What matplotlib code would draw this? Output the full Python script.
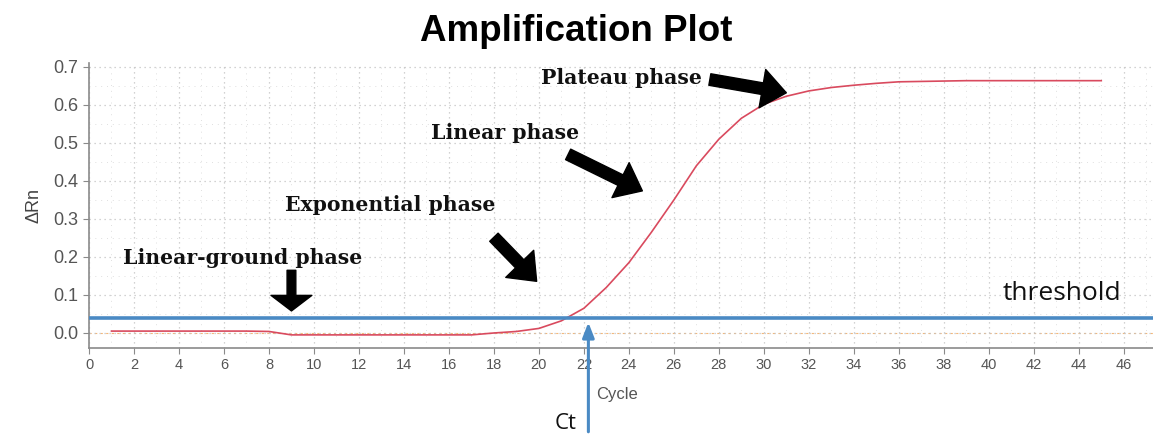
import matplotlib.pyplot as plt
from matplotlib.ticker import MultipleLocator

# qPCR amplification curve
cycles = list(range(1, 46))
delta_rn = [0.005, 0.005, 0.005, 0.005, 0.005, 0.005, 0.005, 0.004, -0.005, -0.005,
            -0.005, -0.005, -0.005, -0.005, -0.005, -0.005, -0.005, 0.0, 0.004, 0.012,
            0.032, 0.065, 0.12, 0.185, 0.265, 0.35, 0.44, 0.51, 0.565, 0.602,
            0.623, 0.637, 0.646, 0.652, 0.657, 0.661, 0.662, 0.663, 0.664, 0.664,
            0.664, 0.664, 0.664, 0.664, 0.664]
threshold = 0.04
ct_cycle = 22.2

x_ticks = list(range(0, 48, 2))
y_ticks = [0.0, 0.1, 0.2, 0.3, 0.4, 0.5, 0.6, 0.7]

# phase labels: (text, label position, arrow tail, arrow tip, arrow style)
big = 'simple,head_width=2.0,head_length=1.25,tail_width=0.6'
flat = 'simple,head_width=2.1,head_length=0.8,tail_width=0.45'
phases = [
    ("Plateau phase", (20.1, 0.671), (27.6, 0.667), (31.0, 0.632), big),
    ("Linear phase", (15.2, 0.526), (21.3, 0.470), (24.6, 0.374), big),
    ("Exponential phase", (8.7, 0.337), (18.0, 0.252), (19.9, 0.136), big),
    ("Linear-ground phase", (1.5, 0.197), (9.0, 0.165), (9.0, 0.058), flat),
]

blue = '#4a8ac4'
red = '#d94a5e'
sans = ['Liberation Sans', 'DejaVu Sans']

fig = plt.figure(figsize=(11.53, 4.36), dpi=100)
ax = fig.add_axes([89 / 1153, 88 / 436, 1 - 89 / 1153, 285 / 436])

ax.plot(cycles, delta_rn, color=red, lw=1.2, zorder=3)
ax.axhline(0.0, color='#f3b77a', lw=0.8, ls=(0, (2, 3)), zorder=1)
ax.axhline(threshold, color=blue, lw=2.6, zorder=4)

ax.set_xlim(0, 47.3)
ax.set_ylim(-0.0395, 0.7105)
ax.set_xticks(x_ticks)
ax.set_yticks(y_ticks)
ax.set_yticklabels([f"{v:.1f}" for v in y_ticks])
ax.xaxis.set_minor_locator(MultipleLocator(1))
ax.yaxis.set_minor_locator(MultipleLocator(0.05))
ax.grid(True, which='major', color='#c4c4c4', lw=0.9, ls=(0, (1, 3)))
ax.grid(True, which='minor', color='#e0e0e0', lw=0.7, ls=(0, (1, 5)))

for side in ['right', 'top']:
    ax.spines[side].set_visible(False)
for side in ['left', 'bottom']:
    ax.spines[side].set_color('#8a8a8a')
    ax.spines[side].set_linewidth(1.2)
ax.tick_params(which='minor', length=0)
ax.tick_params(which='major', color='#8a8a8a', length=4, colors='#555555')
for lab in ax.get_xticklabels():
    lab.set_family(sans)
    lab.set_fontsize(10.5)
for lab in ax.get_yticklabels():
    lab.set_family(sans)
    lab.set_fontsize(13)

ax.set_ylabel("ΔRn", fontsize=13, color='#444444', labelpad=8, family=sans)
fig.text(0.5, 0.928, "Amplification Plot", ha='center', va='center',
         fontsize=26.5, fontweight='bold', family=sans)

for label, pos, tail, tip, style in phases:
    ax.text(pos[0], pos[1], label, ha='left', va='center', fontsize=14.7,
            fontweight='bold', family=['DejaVu Serif'], color='#111111', zorder=6)
    ax.annotate("", xy=tip, xytext=tail,
                arrowprops=dict(arrowstyle=style, color='black', mutation_scale=14,
                                shrinkA=0, shrinkB=0),
                zorder=6)

ax.text(40.6, 0.105, "threshold", ha='left', va='center', fontsize=19,
        family=['Open Sans', 'DejaVu Sans'], color='#111111')

# Ct arrow from below the axis up to the threshold crossing
ax.annotate("", xy=(ct_cycle, threshold - 0.012), xytext=(ct_cycle, -0.26),
            arrowprops=dict(arrowstyle='-|>,head_width=0.35,head_length=0.9',
                            color=blue, lw=2.2, shrinkA=0, shrinkB=0),
            annotation_clip=False, zorder=5)
ax.text(22.55, -0.163, "Cycle", ha='left', va='center', fontsize=12,
        family=sans, color='#555555')
ax.text(21.2, -0.237, "Ct", ha='center', va='center', fontsize=16,
        family=['Open Sans', 'DejaVu Sans'], color='#111111')

fig.savefig('out.png', dpi=100)
